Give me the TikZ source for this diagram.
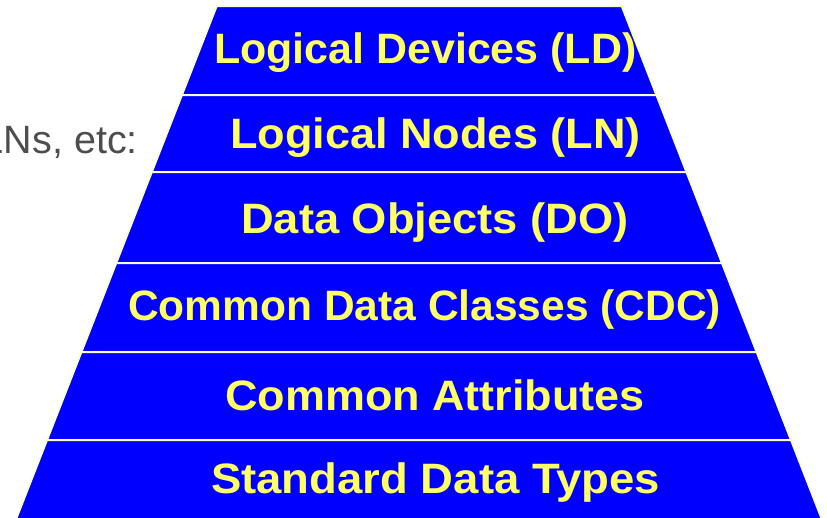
\documentclass[tikz,border=0pt]{standalone}
\usepackage{fontspec}
\usepackage{graphicx}
\setmainfont{Liberation Sans}
\definecolor{bandblue}{HTML}{0000FF}
\definecolor{bandtext}{HTML}{FFFF66}
\definecolor{bandline}{HTML}{FFFFCC}
\definecolor{sidegray}{HTML}{4D4D4D}
\begin{document}
\begin{tikzpicture}[x=1pt,y=-1pt,
  declare function={xl(\t)=216.7-0.391*(\t-6); xr(\t)=621.7+0.39*(\t-6);},
  band/.style={fill=bandblue,draw=bandline,line width=2pt,line join=miter},
  bandlabel/.style={anchor=base west,inner sep=0pt,text=bandtext,font=\fontsize{42.5}{50}\selectfont\bfseries},
  sidetext/.style={anchor=base east,inner sep=0pt,text=sidegray,font=\fontsize{39.5}{46}\selectfont}
]
\useasboundingbox (0,0) rectangle (827,517);
\clip (0,0) rectangle (827,517);
\foreach \a/\b in {6/95,95/172,172/263,263/352,352/440,440/545}{
  \draw[band] ({xl(\a)},\a) -- ({xr(\a)},\a) -- ({xr(\b)},\b) -- ({xl(\b)},\b) -- cycle;
}
\node[bandlabel] (ld)  at (214,63)  {\scalebox{1.01}[1]{Logical Devices (LD)}};
\node[bandlabel] (ln)  at (230,148) {\scalebox{1.06}[1]{Logical Nodes (LN)}};
\node[bandlabel] (do)  at (241,233) {\scalebox{1.065}[1]{Data Objects (DO)}};
\node[bandlabel] (cdc) at (128,320) {\scalebox{1.0}[1]{Common Data Classes (CDC)}};
\node[bandlabel] (ca)  at (225,410) {\scalebox{1.058}[1]{Common Attributes}};
\node[bandlabel] (sdt) at (211,493) {\scalebox{1.07}[1]{Standard Data Types}};
\node[sidetext]  (side) at (138,153) {LNs, etc:};
\end{tikzpicture}
\end{document}
